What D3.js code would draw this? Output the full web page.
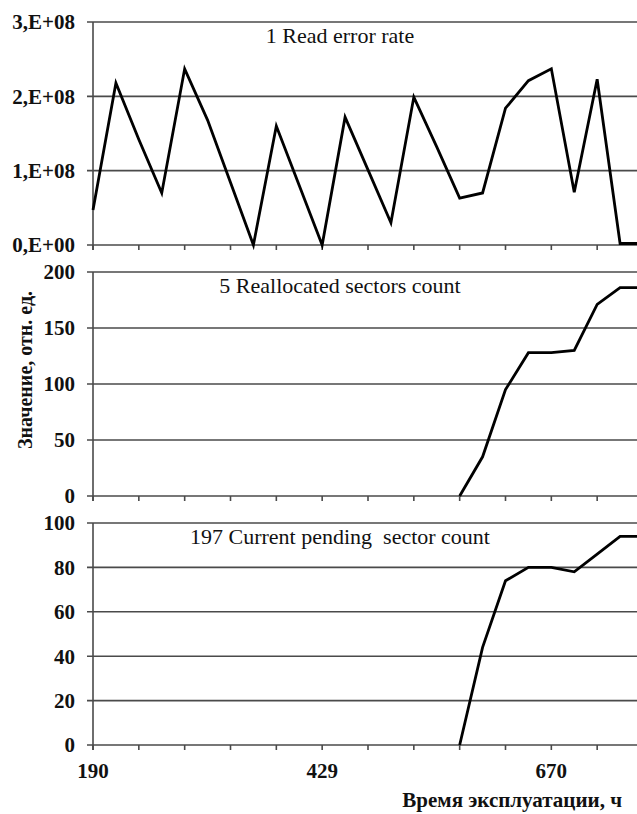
<!DOCTYPE html>
<html>
<head>
<meta charset="utf-8">
<script src="https://cdn.jsdelivr.net/npm/d3@7"></script>
<style>
  body { margin: 0; background: #fff; }
</style>
</head>
<body>
<div id="chart"></div>
<script>
// point index -> tick labels (hours)
const tickLabels = [{i: 0, label: "190"}, {i: 10, label: "429"}, {i: 20, label: "670"}];

// 1 Read error rate (raw value)
const readErrorRate = [0.47e8, 2.18e8, 1.42e8, 0.70e8, 2.37e8, 1.68e8, 0.84e8, 0, 1.60e8, 0.80e8, 0,
    1.72e8, 1.01e8, 0.30e8, 1.99e8, 1.32e8, 0.63e8, 0.70e8, 1.84e8, 2.21e8, 2.37e8, 0.71e8, 2.23e8, 0.02e8, 0.02e8];

// 5 Reallocated sectors count
const reallocated = [null, null, null, null, null, null, null, null, null, null, null, null, null, null, null, null,
    0, 35, 95, 128, 128, 130, 171, 186, 186];

// 197 Current pending sector count
const pending = [null, null, null, null, null, null, null, null, null, null, null, null, null, null, null, null,
    0, 44, 74, 80, 80, 78, 86, 94, 94];

const panelTitles = ["1 Read error rate", "5 Reallocated sectors count", "197 Current pending  sector count"];
const yMax = [3e8, 200, 100];
const yTicks = [[0, 1e8, 2e8, 3e8], [0, 50, 100, 150, 200], [0, 20, 40, 60, 80, 100]];

const width = 637, height = 814;
const serif = "'Liberation Serif'";

let svg = d3.select("#chart")
    .append("svg")
    .attr("width", width)
    .attr("height", height);

// x is point index, last point falls just past the right edge
const x = d3.scaleLinear().domain([0, 24]).range([93, 643]);

// vertical position of each panel
const panels = [
    {top: 22, bottom: 245, values: readErrorRate},
    {top: 272, bottom: 496, values: reallocated},
    {top: 523, bottom: 745, values: pending}
];

panels.forEach(function (p, k) {
    let y = d3.scaleLinear().domain([0, yMax[k]]).range([p.bottom, p.top]);
    let g = svg.append("g");

    // gridlines + left ticks
    g.selectAll(".grid")
        .data(yTicks[k])
        .enter().append("line")
        .attr("x1", 87).attr("x2", width)
        .attr("y1", d => y(d)).attr("y2", d => y(d))
        .attr("stroke", "#4a4a4a")
        .attr("stroke-width", 1.6);

    // tick labels on y
    g.selectAll(".ylab")
        .data(yTicks[k])
        .enter().append("text")
        .attr("x", 75)
        .attr("y", d => y(d))
        .attr("dy", "0.35em")
        .attr("text-anchor", "end")
        .attr("fill", "#111")
        .attr("font-family", serif)
        .attr("font-size", 21)
        .attr("font-weight", "bold")
        .text(d => k === 0 ? (d / 1e8) + ",E+" + (d === 0 ? "00" : "08") : d);

    // y axis line
    g.append("line")
        .attr("x1", x(0)).attr("x2", x(0))
        .attr("y1", p.top).attr("y2", p.bottom + 5)
        .attr("stroke", "#4a4a4a")
        .attr("stroke-width", 1.6);

    // x ticks under each panel
    g.selectAll(".xtick")
        .data(d3.range(0, 25, 2))
        .enter().append("line")
        .attr("x1", d => x(d)).attr("x2", d => x(d))
        .attr("y1", p.bottom).attr("y2", p.bottom + 5)
        .attr("stroke", "#4a4a4a")
        .attr("stroke-width", 1.6);

    // panel title
    g.append("text")
        .attr("x", 340)
        .attr("y", p.top + 21)
        .attr("text-anchor", "middle")
        .attr("fill", "#111")
        .attr("font-family", serif)
        .attr("font-size", 22)
        .attr("xml:space", "preserve")
        .style("white-space", "pre")
        .text(panelTitles[k]);

    // the series
    let line = d3.line()
        .defined(d => d != null)
        .x((d, i) => x(i))
        .y(d => y(d));

    g.append("path")
        .datum(p.values)
        .attr("fill", "none")
        .attr("stroke", "#000")
        .attr("stroke-width", 2.8)
        .attr("stroke-linejoin", "miter")
        .attr("d", line);
});

// x tick labels
svg.selectAll(".xlab")
    .data(tickLabels)
    .enter().append("text")
    .attr("x", d => x(d.i))
    .attr("y", 778)
    .attr("text-anchor", "middle")
    .attr("fill", "#111")
    .attr("font-family", serif)
    .attr("font-size", 21)
    .attr("font-weight", "bold")
    .text(d => d.label);

// axis titles
svg.append("text")
    .attr("x", 622)
    .attr("y", 807)
    .attr("text-anchor", "end")
    .attr("fill", "#111")
    .attr("font-family", serif)
    .attr("font-size", 21)
    .attr("font-weight", "bold")
    .text("Время эксплуатации, ч");

svg.append("text")
    .attr("transform", "translate(32,370) rotate(-90)")
    .attr("text-anchor", "middle")
    .attr("fill", "#111")
    .attr("font-family", serif)
    .attr("font-size", 20)
    .attr("font-weight", "bold")
    .text("Значение, отн. ед.");
</script>
</body>
</html>
